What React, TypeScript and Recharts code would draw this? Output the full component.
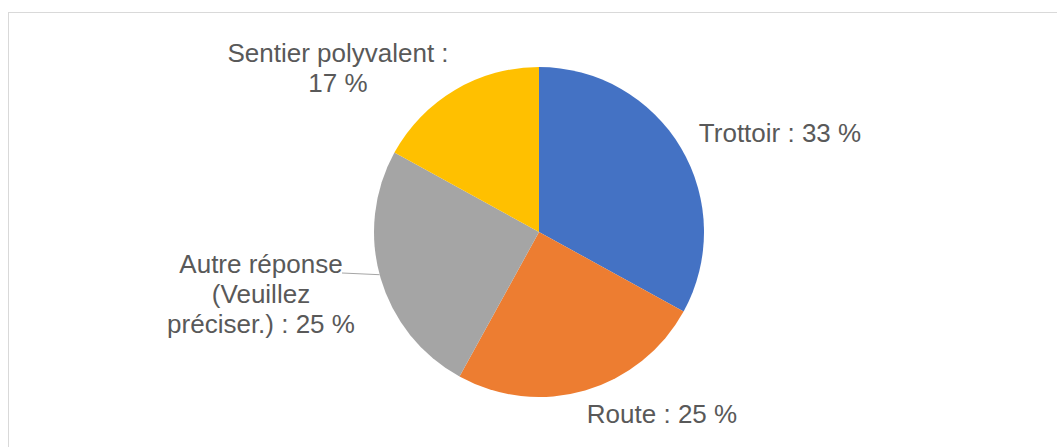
import React from "react";
import { PieChart, Pie, Cell } from "recharts";

const categories = ["Trottoir", "Route", "Autre réponse (Veuillez préciser.)", "Sentier polyvalent"];
const values = [33, 25, 25, 17];
const colors = ["#4472C4", "#ED7D31", "#A5A5A5", "#FFC000"];
// label text lines (category part), percent appended
const labelLines = [
  ["Trottoir : {p}"],
  ["Route : {p}"],
  ["Autre réponse", "(Veuillez", "préciser.) : {p}"],
  ["Sentier polyvalent :", "{p}"],
];

const data = categories.map((name, i) => ({ name, value: values[i] }));

// label placement relative to pie centre (layout, not data)
const labelLayout = [
  { dx: 241, dy: -90 },
  { dx: 123, dy: 191 },
  { dx: -278, dy: 41 },
  { dx: -201, dy: -170 },
];

const FONT = "'Liberation Sans', Arial, sans-serif";
const LINE_H = 30;

const renderLabel = (props: any) => {
  const { cx, cy, outerRadius, index, percent } = props;
  const pct = `${Math.round(percent * 100)} %`;
  const lay = labelLayout[index];
  const x = cx + lay.dx;
  const y0 = cy + lay.dy;
  const lines = labelLines[index].map((l) => l.replace("{p}", pct));
  const RAD = Math.PI / 180;
  let leader = null;
  if (index === 2) {
    const ang = 195 * RAD;
    const ex = cx + outerRadius * Math.cos(ang);
    const ey = cy - outerRadius * Math.sin(ang);
    leader = <line x1={cx - 197} y1={y0} x2={ex} y2={ey} stroke="#A6A6A6" strokeWidth={1} />;
  }
  return (
    <g>
      {leader}
      <text x={x} y={y0} textAnchor="middle" fill="#595959" fontSize={26} fontFamily={FONT}>
        {lines.map((l, i) => (
          <tspan key={i} x={x} y={y0 + i * LINE_H}>
            {l}
          </tspan>
        ))}
      </text>
    </g>
  );
};

export default function App() {
  return (
    <div style={{ position: "absolute", left: 0, top: 0, width: 1057, height: 447, overflow: "hidden", background: "#fff" }}>
      <div
        style={{
          position: "absolute",
          left: 8,
          top: 12,
          width: 1070,
          height: 460,
          border: "1.5px solid #D9D9D9",
          boxSizing: "border-box",
        }}
      />
      <div style={{ position: "absolute", left: 0, top: 0 }}>
        <PieChart width={1057} height={447} margin={{ top: 0, right: 0, bottom: 0, left: 0 }}>
          <Pie
            data={data}
            dataKey="value"
            nameKey="name"
            cx={539}
            cy={232}
            outerRadius={165}
            startAngle={90}
            endAngle={-270}
            stroke="none"
            isAnimationActive={false}
            label={renderLabel}
            labelLine={false}
          >
            {data.map((d, i) => (
              <Cell key={d.name} fill={colors[i]} />
            ))}
          </Pie>
        </PieChart>
      </div>
    </div>
  );
}
